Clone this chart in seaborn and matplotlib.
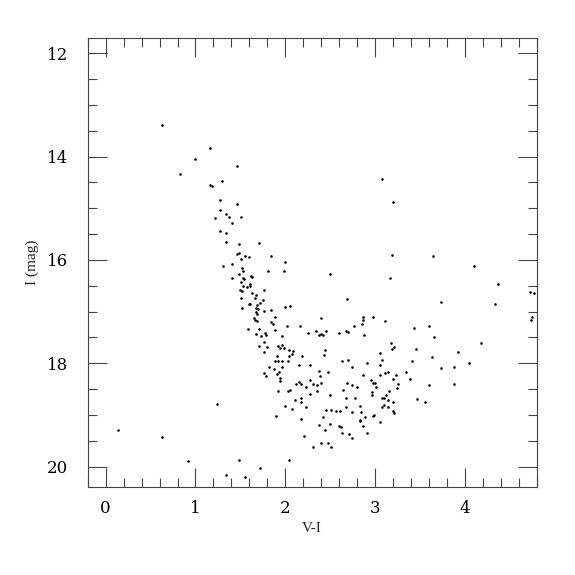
import matplotlib
matplotlib.use("Agg")
import matplotlib.pyplot as plt
from matplotlib.ticker import MultipleLocator
import seaborn as sns
import pandas as pd

# V-I colour index
v_minus_i = [
    0.63, 1.16, 1.00, 1.46, 0.83, 1.30, 1.16, 1.18,
    3.08,
    1.27, 1.46, 1.27, 1.34, 1.37, 1.22, 1.41, 1.275, 1.34, 1.34, 1.49, 1.46, 1.49,
    1.31, 1.41, 1.48, 1.41, 1.50,
    1.51, 1.71, 1.51, 1.555, 1.60, 1.84, 2.00, 1.52, 1.53, 1.81, 1.99, 2.50, 3.165,
    1.53, 1.54, 1.62, 1.63, 1.51, 1.525, 1.61, 1.61, 1.57, 1.52, 1.76, 1.63, 1.67,
    1.51, 1.66, 1.75, 2.69, 1.61, 1.60, 1.69, 1.72, 2.05, 2.00, 1.52, 1.67, 1.70,
    1.76, 1.84, 1.67, 1.68, 1.89, 1.65, 1.66, 1.685, 1.84, 1.86, 2.40, 2.86, 2.86,
    2.85, 2.98, 3.11, 2.02, 2.165, 2.77, 1.59, 1.71, 1.88, 1.67, 1.77, 1.79, 1.73,
    1.96, 2.25, 2.34, 2.38, 2.40, 2.42, 2.455, 2.60, 2.68, 2.70, 2.88,
    3.20, 3.19, 3.65, 4.10, 4.37, 3.73, 4.34, 4.72, 4.77, 4.75, 4.74, 3.43, 3.60, 3.66,
    1.24, 0.14, 0.63, 0.92, 1.49, 1.34,
    1.76, 1.71, 1.80, 1.92, 1.96, 1.94, 1.99, 1.76, 2.04, 2.09, 2.08, 2.44, 1.91,
    2.04, 2.19, 2.43, 1.88, 1.915, 1.96, 2.03, 2.63, 2.70, 3.05, 3.08, 3.06, 2.15,
    2.28, 2.74, 2.905, 1.82, 1.87, 1.96, 1.93, 1.91, 1.76, 1.79, 1.94, 1.945, 2.37,
    2.48, 3.14, 3.11, 3.05, 2.86, 2.27, 2.39, 2.95, 2.995, 2.975, 2.15, 2.12, 2.18,
    2.31, 2.35, 2.40, 2.23, 2.685, 2.74, 2.80, 3.01, 1.92, 2.05, 2.03, 2.355, 2.64,
    3.15, 2.96, 2.97, 2.28, 2.50, 3.12, 2.18, 2.68, 2.775, 3.08, 3.095, 2.11, 2.18,
    3.14, 2.23, 2.00, 2.07, 2.45, 2.51, 2.57, 2.61, 2.675, 2.745, 2.83, 2.84, 3.10,
    3.14, 3.08, 1.90, 2.415, 2.89, 2.975, 2.99, 2.17, 2.835, 2.83, 3.06, 2.37, 2.50,
    2.60, 2.62, 2.86, 2.44, 2.63, 2.91, 2.71, 2.745, 2.21, 2.40, 2.48, 2.51, 2.31,
    2.04, 1.72, 1.555,
    3.18, 3.21, 3.19, 4.18, 3.46, 3.92, 3.63, 3.41, 4.05, 3.88, 3.73, 3.34, 3.23,
    3.20, 3.39, 3.25, 3.60, 3.88, 3.24, 3.20, 3.47, 3.56, 3.20, 3.21,
]

# I magnitude
i_mag = [
    13.39, 13.83, 14.05, 14.18, 14.34, 14.48, 14.56, 14.57,
    14.43,
    14.84, 14.92, 15.03, 15.12, 15.17, 15.19, 15.28, 15.44, 15.47, 15.65, 15.69, 15.88, 15.87,
    16.12, 16.08, 16.27, 16.35, 16.58,
    15.17, 15.67, 15.98, 15.92, 15.95, 15.92, 16.04, 16.16, 16.21, 16.21, 16.22, 16.28, 16.35,
    16.35, 16.37, 16.32, 16.34, 16.43, 16.50, 16.47, 16.50, 16.53, 16.60, 16.58, 16.65, 16.68,
    16.73, 16.74, 16.77, 16.75, 16.85, 16.86, 16.88, 16.83, 16.90, 16.92, 16.94, 16.94, 16.95,
    16.98, 16.96, 17.01, 17.05, 17.11, 17.12, 17.17, 17.18, 17.20, 17.24, 17.13, 17.11, 17.17,
    17.24, 17.10, 17.19, 17.28, 17.28, 17.28, 17.34, 17.34, 17.35, 17.43, 17.42, 17.45, 17.48,
    17.48, 17.41, 17.37, 17.45, 17.43, 17.45, 17.38, 17.41, 17.37, 17.39, 17.46,
    14.88, 15.91, 15.93, 16.12, 16.46, 16.81, 16.85, 16.63, 16.65, 17.10, 17.16, 17.32, 17.28, 17.49,
    18.79, 19.30, 19.42, 19.89, 19.88, 20.16,
    17.59, 17.66, 17.68, 17.67, 17.65, 17.70, 17.70, 17.78, 17.75, 17.77, 17.83, 17.74, 17.86,
    17.86, 17.85, 17.84, 17.95, 17.96, 17.95, 17.95, 17.95, 17.93, 17.81, 17.94, 18.03, 18.03,
    18.03, 18.07, 18.00, 18.08, 18.12, 18.08, 18.16, 18.21, 18.19, 18.24, 18.28, 18.34, 18.14,
    18.17, 18.16, 18.19, 18.23, 18.23, 18.32, 18.25, 18.33, 18.38, 18.39, 18.36, 18.40, 18.41,
    18.40, 18.43, 18.38, 18.46, 18.39, 18.42, 18.46, 18.45, 18.54, 18.52, 18.54, 18.54, 18.52,
    18.54, 18.56, 18.61, 18.60, 18.61, 18.61, 18.67, 18.68, 18.67, 18.67, 18.68, 18.72, 18.74,
    18.71, 18.84, 18.83, 18.88, 18.91, 18.90, 18.92, 18.92, 18.85, 18.94, 18.82, 18.94, 18.81,
    18.85, 18.85, 19.02, 19.04, 19.03, 19.02, 19.00, 19.08, 19.10, 19.12, 19.13, 19.20, 19.17,
    19.21, 19.23, 19.21, 19.29, 19.34, 19.35, 19.37, 19.45, 19.40, 19.54, 19.55, 19.62, 19.62,
    19.87, 20.03, 20.20,
    17.60, 17.68, 17.72, 17.60, 17.73, 17.79, 17.88, 17.96, 18.00, 18.07, 18.10, 18.16, 18.23,
    18.30, 18.30, 18.41, 18.43, 18.41, 18.48, 18.74, 18.69, 18.75, 18.92, 18.96,
]

x_label = "V-I"
y_label = "I (mag)"

df = pd.DataFrame({"V-I": v_minus_i, "I": i_mag})

sns.set_style("ticks")
plt.rcParams["font.family"] = ["DejaVu Serif"]

fig = plt.figure(figsize=(5.75, 5.75), dpi=100)
ax = fig.add_axes([0.1525, 0.1525, 0.781, 0.782])

sns.scatterplot(data=df, x="V-I", y="I", color="black", s=3.5, marker="o",
                linewidth=0, ax=ax)

ax.set_xlim(-0.2, 4.8)
ax.set_ylim(20.4, 11.7)

ax.xaxis.set_major_locator(MultipleLocator(1))
ax.xaxis.set_minor_locator(MultipleLocator(0.2))
ax.yaxis.set_major_locator(MultipleLocator(2))
ax.yaxis.set_minor_locator(MultipleLocator(0.5))

tick_color = "#444444"
ax.tick_params(which="both", direction="in", top=True, right=True,
               color=tick_color, width=0.8)
ax.tick_params(which="major", length=13.5)
ax.tick_params(which="minor", length=6.8)
ax.tick_params(axis="x", which="major", pad=9, labelsize=12, labelcolor="black")
ax.tick_params(axis="y", which="major", pad=14, labelsize=12, labelcolor="black")

for sp in ax.spines.values():
    sp.set_color(tick_color)
    sp.set_linewidth(0.8)

ax.set_xlabel(x_label, fontsize=11, labelpad=4, family=["Liberation Serif"])
ax.set_ylabel(y_label, fontsize=11, labelpad=6, family=["Liberation Serif"])

fig.savefig("out.png", dpi=100)
